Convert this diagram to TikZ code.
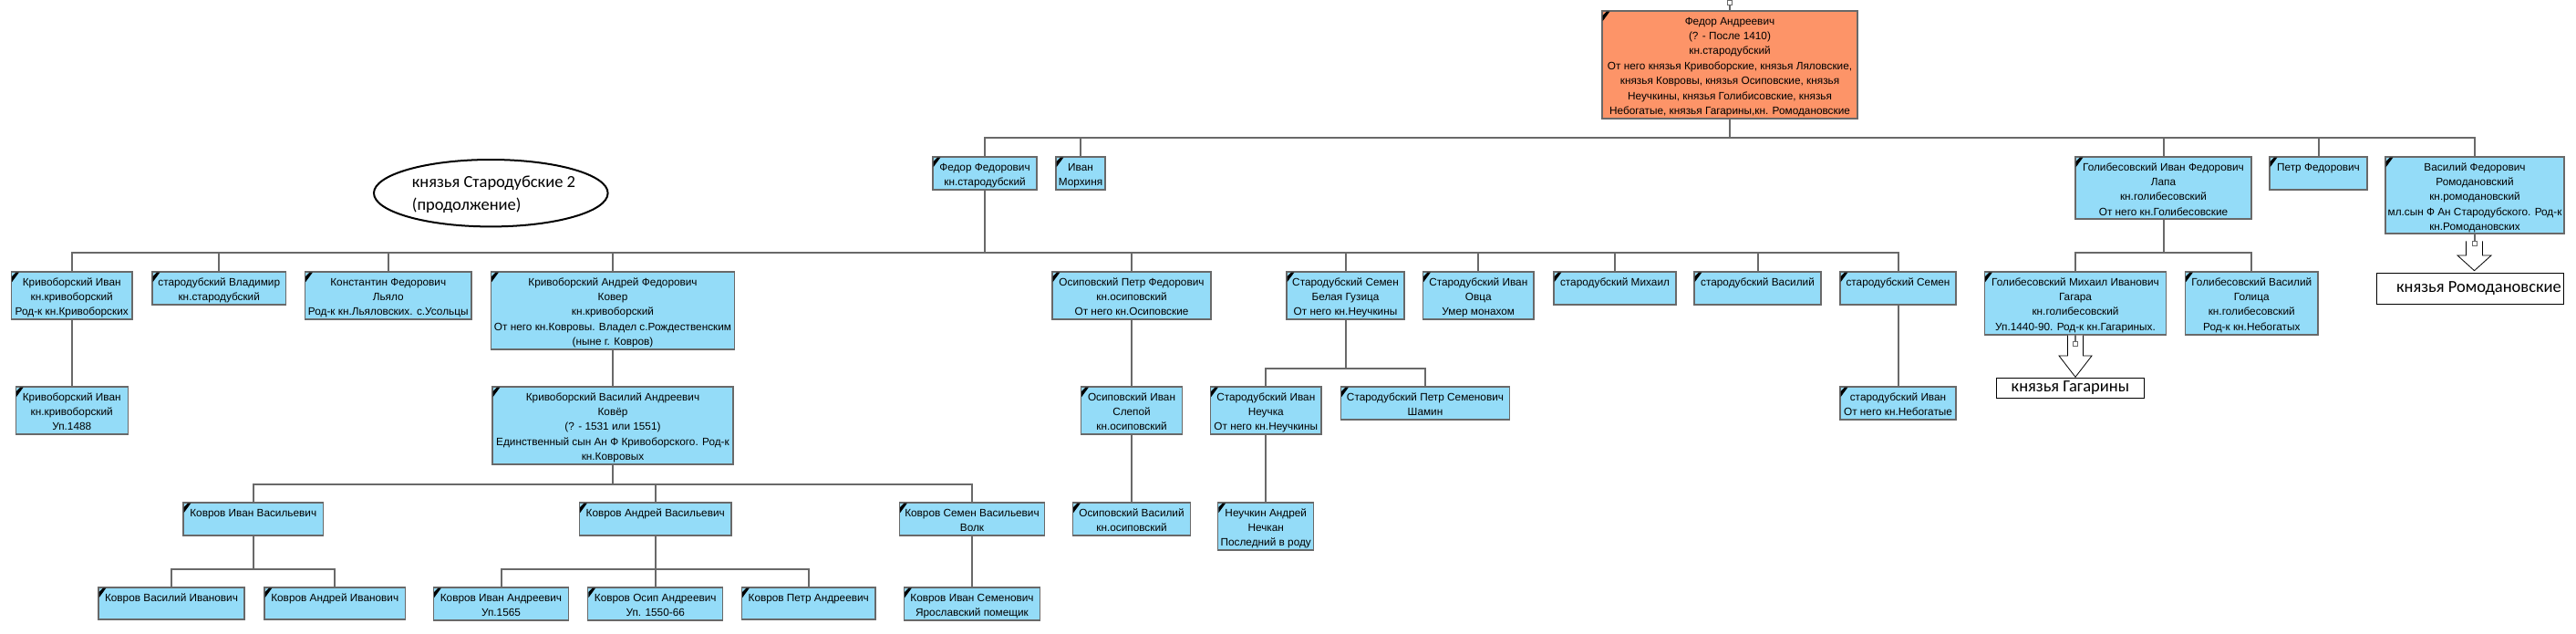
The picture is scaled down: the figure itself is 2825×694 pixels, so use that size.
\documentclass[tikz,border=0pt]{standalone}
\usepackage{fontspec}
\setmainfont{Liberation Sans}
\newfontfamily\calib{Carlito}
\usetikzlibrary{shapes.geometric}
\definecolor{boxblue}{RGB}{148,220,248}
\definecolor{boxorange}{RGB}{253,148,104}
\definecolor{lineg}{RGB}{105,105,105}
\tikzset{
  conn/.style={draw=lineg, line width=2pt},
  pbox/.style={draw=lineg, line width=1.3pt, rectangle, inner sep=0pt, outer sep=0pt},
  ptext/.style={align=center, inner sep=0pt, font=\fontsize{11.8}{16.4}\selectfont},
  sqr/.style={draw=lineg, line width=1.3pt, fill=white, rectangle, minimum size=5pt, inner sep=0pt, outer sep=0pt},
  bigarrow/.style={draw=black, line width=0.8pt, fill=white},
  lbl/.style={draw=black, line width=1pt, fill=white, rectangle, inner sep=0pt, outer sep=0pt, font=\calib\fontsize{18.5}{22}\selectfont},
}
\newcommand\pnode[7][boxblue]{%
  \node[pbox, fill=#1, minimum width=#4pt, minimum height=#6pt, anchor=north west] (#2) at (#3,#5) {};
  \node[ptext, anchor=north] (#2-t) at ([yshift=-5.9pt]#2.north) {\rule{0pt}{9pt}#7};
  \fill ([shift={(0.7pt,-5pt)}]#2.north west) -- ++(4.3pt,4.3pt) -- ++(3.3pt,0pt) -- ([shift={(0.7pt,-11pt)}]#2.north west) -- cycle;
}
\begin{document}
\begin{tikzpicture}[x=1pt,y=-1pt]
\useasboundingbox[fill=white] (0,0) rectangle (2825,694);

% bars
\coordinate (b2) at (0,151);
\coordinate (b3) at (0,277);
\coordinate (b4) at (0,404);
\coordinate (b5) at (0,531);
\coordinate (b6) at (0,624);

% root
\node[sqr] (rsq) at (1897,3) {};
\pnode[boxorange]{r}{1757}{280}{12}{118}{Федор Андреевич\\(? - После 1410)\\кн.стародубский\\От него князья Кривоборские, князья Ляловские,\\князья Ковровы, князья Осиповские, князья\\Неучкины, князья Голибисовские, князья\\Небогатые, князья Гагарины,кн. Ромодановские}

% level 2
\pnode{ff}{1023}{114}{172}{36}{Федор Федорович\\кн.стародубский}
\pnode{im}{1158}{54}{172}{36}{Иван\\Морхиня}
\pnode{gi}{2276}{193}{172}{68}{Голибесовский Иван Федорович\\Лапа\\кн.голибесовский\\От него кн.Голибесовские}
\pnode{pf}{2489}{107}{172}{36}{Петр Федорович}
\pnode{vf}{2616}{196}{172}{84}{Василий Федорович\\Ромодановский\\кн.ромодановский\\мл.сын Ф Ан Стародубского. Род-к\\кн.Ромодановских}

% level 3
\pnode{kiv}{12.5}{132.5}{298}{52}{Кривоборский Иван\\кн.кривоборский\\Род-к кн.Кривоборских}
\pnode{sv}{167}{146.5}{298}{36}{стародубский Владимир\\кн.стародубский}
\pnode{kf}{334.5}{182.5}{298}{52}{Константин Федорович\\Льяло\\Род-к кн.Льяловских. с.Усольцы}
\pnode{kaf}{538.5}{267}{298}{85}{Кривоборский Андрей Федорович\\Ковер\\кн.кривоборский\\От него кн.Ковровы. Владел с.Рождественским\\(ныне г. Ковров)}
\pnode{opf}{1154}{174}{298}{52}{Осиповский Петр Федорович\\кн.осиповский\\От него кн.Осиповские}
\pnode{ss}{1411}{129}{298}{52}{Стародубский Семен\\Белая Гузица\\От него кн.Неучкины}
\pnode{sio}{1560.5}{121.5}{298}{52}{Стародубский Иван\\Овца\\Умер монахом}
\pnode{sm}{1704}{134}{298}{36}{стародубский Михаил}
\pnode{svas}{1858}{139}{298}{36}{стародубский Василий}
\pnode{ssem}{2018}{127}{298}{36}{стародубский Семен}
\pnode{gm}{2176.5}{199}{298}{69}{Голибесовский Михаил Иванович\\Гагара\\кн.голибесовский\\Уп.1440-90. Род-к кн.Гагариных.}
\pnode{gv}{2396.5}{145.5}{298}{69}{Голибесовский Василий\\Голица\\кн.голибесовский\\Род-к кн.Небогатых}

% level 4
\pnode{kiv2}{17.25}{123}{424}{52}{Кривоборский Иван\\кн.кривоборский\\Уп.1488}
\pnode{kva}{540}{264}{424}{85}{Кривоборский Василий Андреевич\\Ковёр\\(? - 1531 или 1551)\\Единственный сын Ан Ф Кривоборского. Род-к\\кн.Ковровых}
\pnode{oi}{1185.5}{111}{424}{52}{Осиповский Иван\\Слепой\\кн.осиповский}
\pnode{sin}{1327.5}{121.5}{424}{52}{Стародубский Иван\\Неучка\\От него кн.Неучкины}
\pnode{sps}{1470.5}{185}{424}{36}{Стародубский Петр Семенович\\Шамин}
\pnode{sin2}{2018}{127}{424}{36}{стародубский Иван\\От него кн.Небогатые}

% level 5
\pnode{kovi}{201}{153.5}{551}{36}{Ковров Иван Васильевич}
\pnode{kova}{635.5}{166.5}{551}{36}{Ковров Андрей Васильевич}
\pnode{kovs}{986.5}{159}{551}{36}{Ковров Семен Васильевич\\Волк}
\pnode{osv}{1176.5}{129}{551}{36}{Осиповский Василий\\кн.осиповский}
\pnode{nea}{1335.75}{105}{551}{52}{Неучкин Андрей\\Нечкан\\Последний в роду}

% level 6
\pnode{kvi}{108}{160}{644}{35}{Ковров Василий Иванович}
\pnode{kai}{290}{154.5}{644}{35}{Ковров Андрей Иванович}
\pnode{kia}{475.5}{148}{644}{36}{Ковров Иван Андреевич\\Уп.1565}
\pnode{koa}{644.75}{148}{644}{36}{Ковров Осип Андреевич\\Уп. 1550-66}
\pnode{kpa}{813.5}{146.5}{644}{35}{Ковров Петр Андреевич}
\pnode{kis}{991.5}{149}{644}{36}{Ковров Иван Семенович\\Ярославский помещик}

% connectors
\draw[conn] (rsq) -- (r);
\foreach \c in {ff,im,gi,pf,vf} \draw[conn] (\c.north) -- (\c.north |- b2) -| (r.south);
\foreach \c in {kiv,sv,kf,kaf,opf,ss,sio,sm,svas,ssem} \draw[conn] (\c.north) -- (\c.north |- b3) -| (ff.south);
\foreach \c in {gm,gv} \draw[conn] (\c.north) -- (\c.north |- b3) -| (gi.south);
\draw[conn] (kiv2.north) -- (kiv2.north |- b4) -| (kiv.south);
\draw[conn] (kva.north) -- (kva.north |- b4) -| (kaf.south);
\draw[conn] (oi.north) -- (oi.north |- b4) -| (opf.south);
\foreach \c in {sin,sps} \draw[conn] (\c.north) -- (\c.north |- b4) -| (ss.south);
\draw[conn] (sin2.north) -- (sin2.north |- b4) -| (ssem.south);
\foreach \c in {kovi,kova,kovs} \draw[conn] (\c.north) -- (\c.north |- b5) -| (kva.south);
\draw[conn] (osv.north) -- (osv.north |- b5) -| (oi.south);
\draw[conn] (nea.north) -- (nea.north |- b5) -| (sin.south);
\foreach \c in {kvi,kai} \draw[conn] (\c.north) -- (\c.north |- b6) -| (kovi.south);
\foreach \c in {kia,koa,kpa} \draw[conn] (\c.north) -- (\c.north |- b6) -| (kova.south);
\draw[conn] (kis.north) -- (kis.north |- b6) -| (kovs.south);

% oval
\node[ellipse, draw=black, line width=2pt, minimum width=256.6pt, minimum height=73.4pt, inner sep=0pt] (ov) at (538.3,211.7) {};
\node[anchor=north west, align=left, inner sep=0pt, font=\calib\fontsize{18.5}{25}\selectfont] (ovt) at (451.7,191.5) {\rule{0pt}{14pt}князья Стародубские 2\\(продолжение)};

% Gagariny arrow
\path[bigarrow] (2267.5,367.5) -- (2267.5,390) -- (2258,390) -- (2276,413.3) -- (2294,390) -- (2284.5,390) -- (2284.5,367.5);
\node[sqr] (gsq) at (2276,376.7) {};
\draw[conn, line width=1.5pt] (gm.south) -- (gsq);
\node[lbl, minimum width=162.7pt, minimum height=21.7pt, anchor=north west] (gl) at (2189,414.3) {князья Гагарины};

% Romodanovskie arrow
\path[bigarrow] (2704.5,264.3) -- (2704.5,280) -- (2695,280) -- (2713.5,296.7) -- (2732,280) -- (2722.5,280) -- (2722.5,264.3);
\node[sqr] (vsq) at (2714,266.8) {};
\draw[conn, line width=1.5pt] (vf.south) -- (vsq);
\node[lbl, minimum width=205pt, minimum height=34pt, anchor=north west] (vl) at (2606,299.3) {\hspace*{20pt}князья Ромодановские};
\end{tikzpicture}
\end{document}
